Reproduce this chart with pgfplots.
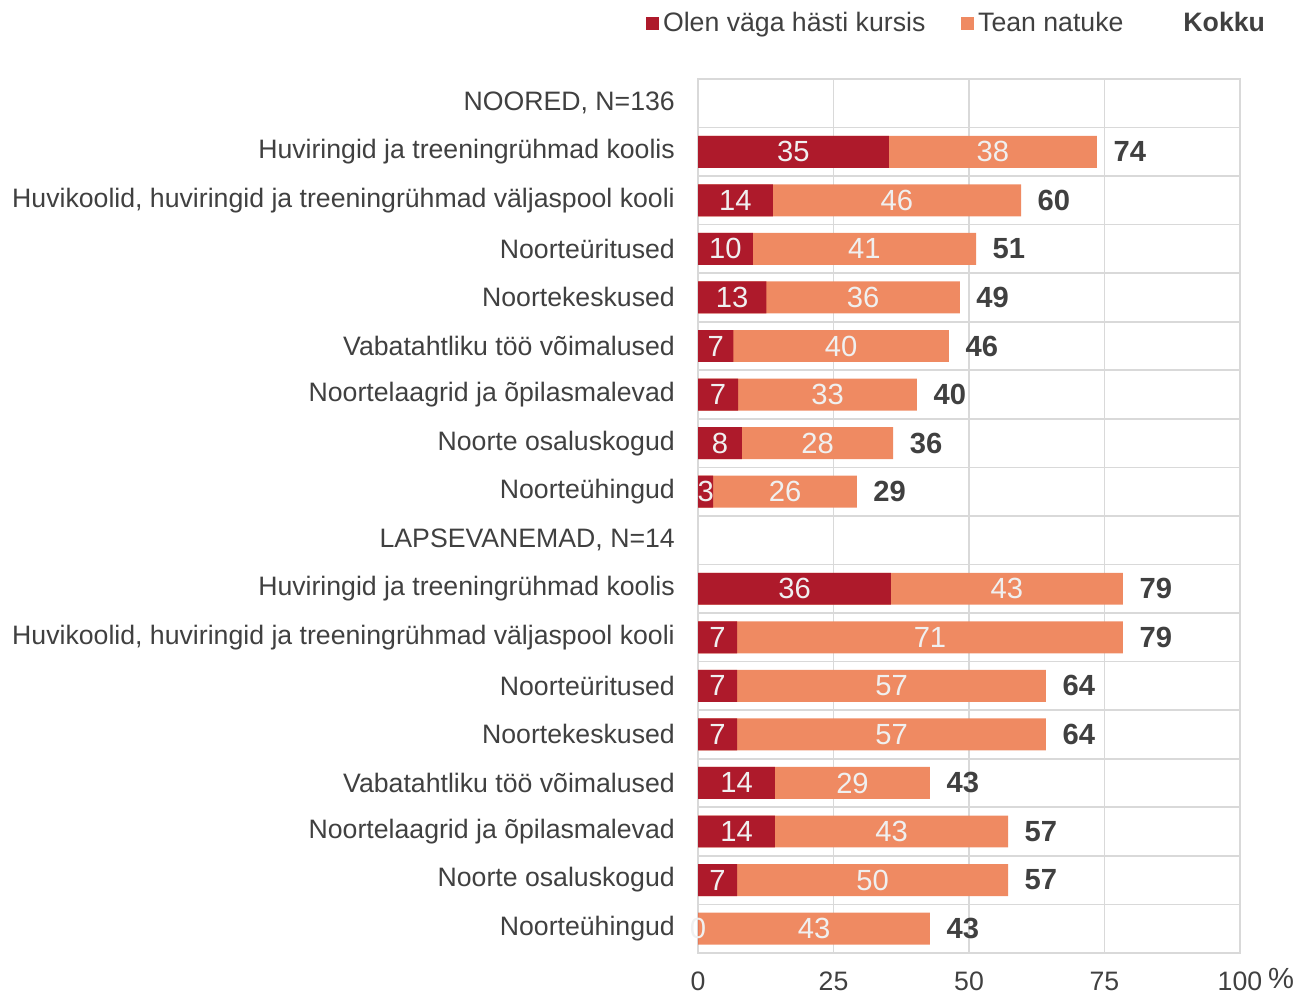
\documentclass[border=0pt]{standalone}
\usepackage{fontspec}
\setmainfont{Liberation Sans}
\usepackage{pgfplots}
\usepackage{pgfplotstable}
\pgfplotsset{compat=1.18}
\definecolor{barred}{HTML}{AE1A2B}
\definecolor{barorange}{HTML}{EF8A62}
\definecolor{textgray}{HTML}{404040}
\definecolor{gridgray}{HTML}{D9D9D9}
\pgfplotstableread{
y  ra   a  ab   b  tot
1  35.2 35 73.6 38 74
2  13.8 14 59.6 46 60
3  10.1 10 51.3 41 51
4  12.6 13 48.3 36 49
5  6.5  7  46.3 40 46
6  7.4  7  40.4 33 40
7  8.1  8  36.0 28 36
8  2.8  3  29.3 26 29
10 35.6 36 78.4 43 79
11 7.2  7  78.4 71 79
12 7.2  7  64.2 57 64
13 7.2  7  64.2 57 64
14 14.2 14 42.8 29 43
15 14.2 14 57.2 43 57
16 7.2  7  57.2 50 57
17 0    0  42.8 43 43
}\data
\begin{document}
\begin{tikzpicture}
\begin{axis}[
  scale only axis, width=195.1pt, height=314.6pt,
  xbar, bar width=11.5pt, bar shift=0pt,
  xmin=0, xmax=100, ymin=-0.5, ymax=17.5, y dir=reverse,
  clip=false,
  xtick={0,25,50,75,100},
  ytick={0,...,17},
  yticklabels={{NOORED, N=136},
    {Huviringid ja treeningrühmad koolis},
    {Huvikoolid, huviringid ja treeningrühmad väljaspool kooli},
    {Noorteüritused},{Noortekeskused},{Vabatahtliku töö võimalused},
    {Noortelaagrid ja õpilasmalevad},{Noorte osaluskogud},{Noorteühingud},
    {LAPSEVANEMAD, N=14},
    {Huviringid ja treeningrühmad koolis},
    {Huvikoolid, huviringid ja treeningrühmad väljaspool kooli},
    {Noorteüritused},{Noortekeskused},{Vabatahtliku töö võimalused},
    {Noortelaagrid ja õpilasmalevad},{Noorte osaluskogud},{Noorteühingud}},
  minor ytick={0.5,1.5,...,16.5},
  xmajorgrids, yminorgrids,
  grid style={gridgray, line width=0.6pt},
  minor grid style={gridgray, line width=0.6pt},
  axis line style={gridgray, line width=0.6pt},
  tick style={draw=none},
  minor tick style={draw=none},
  yticklabel style={font=\fontsize{9.6}{11}\selectfont, text=textgray, inner sep=0pt, xshift=-3.9pt},
  xticklabel style={font=\fontsize{9.6}{11}\selectfont, text=textgray, inner sep=0pt, yshift=-6.6pt},
  /pgf/number format/assume math mode=true,
  legend style={at={(1,1)}, anchor=east, xshift=10.5pt, yshift=19.8pt,
    draw=none, fill=none, inner sep=0pt, outer sep=0pt,
    font=\fontsize{9.6}{11}\selectfont, text=textgray,
    nodes={inner sep=1.5pt},
    /tikz/every even column/.append style={column sep=11.4pt}},
  legend columns=3,
  legend cell align=left,
]
\addlegendimage{legend image code/.code={\fill[barred] (0pt,-2pt) rectangle (4.2pt,2.2pt);}}
\addlegendentry{Olen väga hästi kursis}
\addlegendimage{legend image code/.code={\fill[barorange] (0pt,-2pt) rectangle (4.2pt,2.2pt);}}
\addlegendentry{Tean natuke}
\addlegendimage{legend image code/.code={}}
\addlegendentry{\hspace*{7.2pt}\textbf{Kokku}}
% orange bars (full length to total), label centred in orange part
\addplot[forget plot, fill=barorange, draw=none, bar shift=0pt,
  point meta=explicit,
  visualization depends on={\thisrow{ab}-\thisrow{ra} \as \segv},
  nodes near coords={\pgfmathprintnumber[fixed,precision=0]{\pgfplotspointmeta}},
  every node near coord/.append style={anchor=center, xshift={-0.9755pt*\segv},
    font=\fontsize{10.5}{12}\selectfont, text=white!94!black}]
  table[x=ab, y=y, meta=b] {\data};
% red bars
\addplot[forget plot, fill=barred, draw=none, bar shift=0pt,
  point meta=explicit,
  visualization depends on={\thisrow{ra} \as \segv},
  nodes near coords={\pgfmathprintnumber[fixed,precision=0]{\pgfplotspointmeta}},
  every node near coord/.append style={anchor=center, xshift={-0.9755pt*\segv},
    font=\fontsize{10.5}{12}\selectfont, text=white!94!black}]
  table[x=ra, y=y, meta=a] {\data};
% totals
\addplot[forget plot, draw=none, fill=none, bar shift=0pt,
  point meta=explicit,
  nodes near coords={\pgfmathprintnumber[fixed,precision=0]{\pgfplotspointmeta}},
  every node near coord/.append style={anchor=west, inner sep=0pt, xshift=5.8pt,
    font=\bfseries\fontsize{10.5}{12}\selectfont, text=textgray}]
  table[x=ab, y=y, meta=tot] {\data};
\node[font=\fontsize{10.5}{12}\selectfont, text=textgray, inner sep=0pt] at (axis cs:100,17.5) [xshift=14.8pt, yshift=-9.2pt] {\%};
\coordinate (bl) at (axis cs:0,17.5);
\coordinate (tr) at (axis cs:100,-0.5);
\end{axis}
\pgfresetboundingbox
\useasboundingbox ([shift={(-251.3pt,-14.76pt)}]bl) rectangle ([shift={(25.56pt,28.44pt)}]tr);
\end{tikzpicture}
\end{document}
